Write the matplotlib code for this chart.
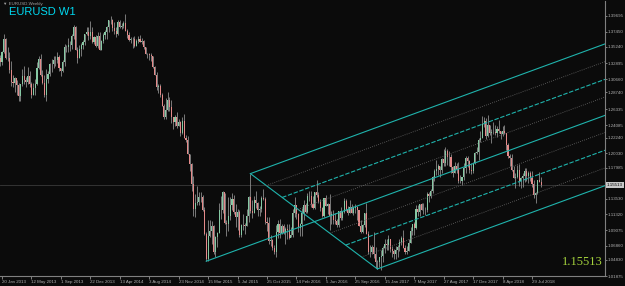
import numpy as np
import pandas as pd
import matplotlib
matplotlib.use('Agg')
import matplotlib.pyplot as plot
import matplotlib.transforms as mtransforms

symbol_title = 'EURUSD W1'
window_caption = '\u25bc EURUSD,Weekly'
first_week = '2013-01-13'   # weekly bars, Sunday open
first_open = 1.3365

# weekly highs / lows / closes, 13 Jan 2013 .. 2 Sep 2018
high = [
    # 2013
    1.3403, 1.3460, 1.3711, 1.3651, 1.3520, 1.3450, 1.3320, 1.3130, 1.3095, 1.3055,
    1.3008, 1.2960, 1.3203, 1.3245, 1.3091, 1.3243, 1.3176, 1.3030, 1.3010, 1.3060,
    1.3307, 1.3390, 1.3418, 1.3188, 1.3125, 1.3207, 1.3177, 1.3298, 1.3345, 1.3400,
    1.3399, 1.3452, 1.3413, 1.3227, 1.3339, 1.3568, 1.3547, 1.3646, 1.3609, 1.3705,
    1.3832, 1.3820, 1.3525, 1.3550, 1.3580, 1.3620, 1.3710, 1.3810, 1.3812, 1.3893,
    1.3810,
    # 2014
    1.3685, 1.3700, 1.3740, 1.3740, 1.3620, 1.3717, 1.3773, 1.3825, 1.3915, 1.3967,
    1.3930, 1.3877, 1.3810, 1.3906, 1.3905, 1.3865, 1.3890, 1.3995, 1.3780, 1.3740,
    1.3668, 1.3670, 1.3677, 1.3642, 1.3680, 1.3700, 1.3648, 1.3626, 1.3530, 1.3444,
    1.3440, 1.3445, 1.3390, 1.3250, 1.3160, 1.2995, 1.3000, 1.2860, 1.2710, 1.2790,
    1.2887, 1.2810, 1.2770, 1.2530, 1.2545, 1.2600, 1.2500, 1.2460, 1.2530, 1.2570,
    1.2270, 1.2250,
    # 2015
    1.1990, 1.1870, 1.1680, 1.1425, 1.1534, 1.1450, 1.1450, 1.1415, 1.1240, 1.0880,
    1.1050, 1.1050, 1.1035, 1.0980, 1.0820, 1.0880, 1.1290, 1.1390, 1.1467, 1.1440,
    1.1050, 1.1380, 1.1385, 1.1435, 1.1410, 1.1280, 1.1215, 1.1190, 1.0990, 1.1130,
    1.1010, 1.1215, 1.1390, 1.1714, 1.1330, 1.1390, 1.1460, 1.1310, 1.1250, 1.1390,
    1.1495, 1.1385, 1.1095, 1.1095, 1.0830, 1.0780, 1.0690, 1.0985, 1.1045, 1.1060,
    1.0990, 1.0990,
    # 2016
    1.0950, 1.0995, 1.0990, 1.0945, 1.1215, 1.1375, 1.1265, 1.1150, 1.1005, 1.1220,
    1.1340, 1.1290, 1.1440, 1.1460, 1.1465, 1.1400, 1.1455, 1.1616, 1.1445, 1.1345,
    1.1240, 1.1370, 1.1415, 1.1300, 1.1425, 1.1185, 1.1190, 1.1150, 1.1060, 1.1180,
    1.1235, 1.1185, 1.1365, 1.1345, 1.1250, 1.1330, 1.1285, 1.1250, 1.1280, 1.1250,
    1.1200, 1.1055, 1.0990, 1.1150, 1.1300, 1.0900, 1.0690, 1.0700, 1.0875, 1.0670,
    1.0480, 1.0495,
    # 2017
    1.0620, 1.0685, 1.0775, 1.0775, 1.0830, 1.0785, 1.0680, 1.0630, 1.0680, 1.0700,
    1.0780, 1.0825, 1.0906, 1.0690, 1.0680, 1.0780, 1.0950, 1.1000, 1.1020, 1.1265,
    1.1268, 1.1285, 1.1295, 1.1295, 1.1230, 1.1445, 1.1445, 1.1490, 1.1680, 1.1775,
    1.1910, 1.1845, 1.1830, 1.1940, 1.2070, 1.2092, 1.2060, 1.2035, 1.1990, 1.1830,
    1.1880, 1.1860, 1.1880, 1.1690, 1.1670, 1.1860, 1.1965, 1.1960, 1.1910, 1.1865,
    1.1880, 1.2025,
    # 2018
    1.2090, 1.2220, 1.2325, 1.2536, 1.2520, 1.2510, 1.2555, 1.2410, 1.2355, 1.2445,
    1.2410, 1.2390, 1.2476, 1.2330, 1.2395, 1.2415, 1.2300, 1.2150, 1.1995, 1.1995,
    1.1830, 1.1720, 1.1840, 1.1852, 1.1660, 1.1720, 1.1790, 1.1790, 1.1745, 1.1750,
    1.1745, 1.1620, 1.1450, 1.1625, 1.1735, 1.1660,
]
low = [
    # 2013
    1.3256, 1.3265, 1.3432, 1.3355, 1.3318, 1.3145, 1.2966, 1.2955, 1.2882, 1.2843,
    1.2750, 1.2745, 1.2968, 1.2998, 1.2955, 1.2990, 1.2954, 1.2796, 1.2833, 1.2842,
    1.2986, 1.3208, 1.3107, 1.3000, 1.2807, 1.2755, 1.3005, 1.3105, 1.3160, 1.3229,
    1.3250, 1.3300, 1.3177, 1.3104, 1.3165, 1.3250, 1.3448, 1.3456, 1.3472, 1.3490,
    1.3644, 1.3482, 1.3295, 1.3360, 1.3400, 1.3500, 1.3547, 1.3692, 1.3627, 1.3640,
    1.3585,
    # 2014
    1.3572, 1.3528, 1.3510, 1.3480, 1.3475, 1.3585, 1.3640, 1.3641, 1.3738, 1.3847,
    1.3749, 1.3705, 1.3673, 1.3700, 1.3790, 1.3780, 1.3800, 1.3750, 1.3648, 1.3615,
    1.3586, 1.3503, 1.3523, 1.3540, 1.3584, 1.3590, 1.3570, 1.3490, 1.3420, 1.3366,
    1.3333, 1.3320, 1.3220, 1.3125, 1.2915, 1.2860, 1.2805, 1.2681, 1.2500, 1.2500,
    1.2615, 1.2610, 1.2440, 1.2358, 1.2400, 1.2360, 1.2390, 1.2250, 1.2275, 1.2220,
    1.2165, 1.1995,
    # 2015
    1.1755, 1.1460, 1.1113, 1.1098, 1.1270, 1.1270, 1.1315, 1.1175, 1.0840, 1.0462,
    1.0465, 1.0810, 1.0710, 1.0570, 1.0520, 1.0660, 1.0860, 1.1060, 1.1150, 1.1000,
    1.0820, 1.0890, 1.1050, 1.1190, 1.1135, 1.0955, 1.0915, 1.0810, 1.0810, 1.0910,
    1.0850, 1.0960, 1.1020, 1.1155, 1.1080, 1.1150, 1.1220, 1.1105, 1.1110, 1.1165,
    1.1340, 1.0995, 1.0895, 1.0710, 1.0675, 1.0620, 1.0560, 1.0525, 1.0800, 1.0800,
    1.0850, 1.0850,
    # 2016
    1.0710, 1.0780, 1.0780, 1.0810, 1.0810, 1.1090, 1.1070, 1.0880, 1.0825, 1.0820,
    1.1050, 1.1145, 1.1145, 1.1325, 1.1235, 1.1215, 1.1215, 1.1385, 1.1300, 1.1180,
    1.1100, 1.1100, 1.1250, 1.1130, 1.0910, 1.0990, 1.1000, 1.1000, 1.0950, 1.0950,
    1.1045, 1.1045, 1.1150, 1.1185, 1.1120, 1.1145, 1.1150, 1.1120, 1.1155, 1.1045,
    1.0965, 1.0870, 1.0860, 1.0945, 1.0850, 1.0570, 1.0520, 1.0570, 1.0505, 1.0365,
    1.0352, 1.0375,
    # 2017
    1.0340, 1.0455, 1.0575, 1.0620, 1.0620, 1.0590, 1.0520, 1.0495, 1.0495, 1.0525,
    1.0605, 1.0700, 1.0645, 1.0570, 1.0570, 1.0605, 1.0720, 1.0835, 1.0840, 1.0920,
    1.1110, 1.1110, 1.1190, 1.1130, 1.1120, 1.1170, 1.1310, 1.1370, 1.1440, 1.1610,
    1.1700, 1.1690, 1.1660, 1.1730, 1.1825, 1.1825, 1.1835, 1.1825, 1.1720, 1.1670,
    1.1730, 1.1730, 1.1575, 1.1575, 1.1555, 1.1620, 1.1720, 1.1810, 1.1730, 1.1715,
    1.1720, 1.1850,
    # 2018
    1.1995, 1.1915, 1.2165, 1.2225, 1.2385, 1.2205, 1.2235, 1.2260, 1.2155, 1.2275,
    1.2265, 1.2240, 1.2290, 1.2215, 1.2255, 1.2285, 1.2055, 1.1940, 1.1820, 1.1750,
    1.1645, 1.1510, 1.1645, 1.1540, 1.1510, 1.1525, 1.1590, 1.1615, 1.1575, 1.1615,
    1.1530, 1.1365, 1.1300, 1.1430, 1.1595, 1.1525,
]
close = [
    # 2013
    1.3315, 1.3458, 1.3633, 1.3364, 1.3362, 1.3190, 1.3018, 1.3005, 1.3076, 1.2986,
    1.2818, 1.2994, 1.3113, 1.3054, 1.3030, 1.3114, 1.2991, 1.2834, 1.2937, 1.2999,
    1.3221, 1.3347, 1.3122, 1.3011, 1.2833, 1.3069, 1.3142, 1.3276, 1.3280, 1.3342,
    1.3337, 1.3381, 1.3222, 1.3177, 1.3303, 1.3525, 1.3524, 1.3555, 1.3548, 1.3686,
    1.3805, 1.3487, 1.3365, 1.3496, 1.3555, 1.3590, 1.3705, 1.3740, 1.3675, 1.3745,
    1.3590,
    # 2014
    1.3668, 1.3540, 1.3680, 1.3487, 1.3607, 1.3693, 1.3743, 1.3804, 1.3912, 1.3913,
    1.3790, 1.3750, 1.3705, 1.3888, 1.3812, 1.3830, 1.3870, 1.3757, 1.3696, 1.3630,
    1.3634, 1.3643, 1.3540, 1.3610, 1.3645, 1.3592, 1.3605, 1.3524, 1.3430, 1.3430,
    1.3410, 1.3400, 1.3240, 1.3130, 1.2950, 1.2960, 1.2835, 1.2683, 1.2520, 1.2628,
    1.2760, 1.2670, 1.2525, 1.2450, 1.2525, 1.2390, 1.2450, 1.2290, 1.2465, 1.2230,
    1.2190, 1.2000,
    # 2015
    1.1845, 1.1565, 1.1205, 1.1290, 1.1315, 1.1385, 1.1380, 1.1195, 1.0845, 1.0495,
    1.0820, 1.0890, 1.0970, 1.0600, 1.0810, 1.0870, 1.1200, 1.1200, 1.1450, 1.1010,
    1.0990, 1.1110, 1.1260, 1.1350, 1.1165, 1.1100, 1.1160, 1.0830, 1.0980, 1.0985,
    1.0970, 1.1105, 1.1385, 1.1180, 1.1150, 1.1335, 1.1300, 1.1200, 1.1210, 1.1360,
    1.1350, 1.1020, 1.1005, 1.0745, 1.0770, 1.0650, 1.0590, 1.0880, 1.0990, 1.0865,
    1.0965, 1.0860,
    # 2016
    1.0925, 1.0915, 1.0795, 1.0830, 1.1155, 1.1260, 1.1130, 1.0930, 1.1000, 1.1150,
    1.1270, 1.1165, 1.1390, 1.1400, 1.1285, 1.1225, 1.1450, 1.1405, 1.1310, 1.1225,
    1.1115, 1.1365, 1.1255, 1.1277, 1.1115, 1.1135, 1.1050, 1.1040, 1.0975, 1.1175,
    1.1085, 1.1165, 1.1325, 1.1200, 1.1155, 1.1235, 1.1155, 1.1225, 1.1240, 1.1200,
    1.0970, 1.0885, 1.0980, 1.1145, 1.0855, 1.0590, 1.0590, 1.0665, 1.0560, 1.0450,
    1.0455, 1.0520,
    # 2017
    1.0530, 1.0645, 1.0705, 1.0695, 1.0785, 1.0640, 1.0615, 1.0560, 1.0620, 1.0670,
    1.0735, 1.0800, 1.0650, 1.0590, 1.0615, 1.0725, 1.0895, 1.0995, 1.0930, 1.1205,
    1.1160, 1.1280, 1.1195, 1.1200, 1.1195, 1.1425, 1.1400, 1.1470, 1.1665, 1.1750,
    1.1775, 1.1820, 1.1760, 1.1925, 1.1860, 1.2035, 1.1945, 1.1950, 1.1815, 1.1730,
    1.1820, 1.1785, 1.1605, 1.1610, 1.1665, 1.1795, 1.1935, 1.1895, 1.1770, 1.1750,
    1.1860, 1.2005,
    # 2018
    1.2030, 1.2200, 1.2220, 1.2425, 1.2460, 1.2250, 1.2410, 1.2295, 1.2310, 1.2305,
    1.2290, 1.2350, 1.2320, 1.2285, 1.2330, 1.2290, 1.2130, 1.1960, 1.1940, 1.1770,
    1.1655, 1.1660, 1.1765, 1.1605, 1.1655, 1.1685, 1.1745, 1.1685, 1.1720, 1.1655,
    1.1565, 1.1410, 1.1440, 1.1620, 1.1600, 1.15513,
]

# price scale labels as printed by the terminal (top to bottom)
price_labels = ['1.39695', '1.37450', '1.35240', '1.32895', '1.30660', '1.28740',
                '1.26335', '1.24085', '1.22240', '1.20030', '1.17985', '1.13530',
                '1.11320', '1.09075', '1.06860', '1.04830', '1.01875']

# channel pivots (bar index) and slope in price per week
pivot_low_a = 112    # Mar 2015 low
pivot_high = 136     # Aug 2015 high
pivot_low_c = 205    # Dec 2016 low
channel_slope = 0.000962

bg = '#0b0b0b'
grey = '#b0b0b0'
cyan = '#1fb3ac'

fig = plot.figure(figsize=(6.25, 2.86), dpi=100, facecolor=bg)
ax = fig.add_axes([0, 10 / 286, 605 / 625, 275 / 286], facecolor=bg)

c = np.array(close)
h = np.array(high)
l = np.array(low)
o = np.concatenate([[first_open], c[:-1]])
n = len(c)
x = np.arange(n)
up = c >= o

ax.set_xlim(-0.09, 328.7)
ax.set_ylim(1.0251, 1.4181)

bid = close[-1]
ax.axhline(bid, color='#3a3a3a', linewidth=0.6, zorder=1)

# candles
ax.vlines(x, l, h, color='#8c8c8c', linewidth=0.6, zorder=2)
ax.bar(x[up], (c - o)[up], bottom=o[up], width=0.6, color='#86c9a4', linewidth=0, zorder=3)
ax.bar(x[~up], (o - c)[~up], bottom=c[~up], width=0.6, color='#e48a8a', linewidth=0, zorder=3)

# channel
x_end = ax.get_xlim()[1]
def ray(i0, p0):
    return [i0, x_end], [p0, p0 + channel_slope * (x_end - i0)]

p_a = low[pivot_low_a]
p_b = high[pivot_high]
p_c = low[pivot_low_c]
for i0, p0 in [(pivot_high, p_b), (pivot_low_a, p_a), (pivot_low_c, p_c)]:
    ax.plot(*ray(i0, p0), color=cyan, linewidth=0.8, zorder=4)
ax.plot([pivot_high, pivot_low_c], [p_b, p_c], color=cyan, linewidth=0.8, zorder=4)
for k in (1, 2, 3, 5, 6, 7):
    f = k / 8
    i0 = pivot_high + f * (pivot_low_c - pivot_high)
    p0 = p_b + f * (p_c - p_b)
    if k in (2, 6):
        ax.plot(*ray(i0, p0), color=cyan, linewidth=0.8, dashes=(4, 1.5), zorder=4)
    else:
        ax.plot(*ray(i0, p0), color='#6a6a6a', linewidth=0.6, dashes=(1, 1.6), zorder=4)

# axes styling
for side in ('top', 'left'):
    ax.spines[side].set_visible(False)
for side in ('right', 'bottom'):
    ax.spines[side].set_color('#808080')
    ax.spines[side].set_linewidth(0.8)

ylo = ax.get_ylim()[0]
ax.yaxis.tick_right()
ax.set_yticks([max(float(s), ylo) for s in price_labels])
ax.set_yticklabels(price_labels, family='Liberation Sans')
ax.tick_params(axis='y', colors=grey, labelsize=3.2, length=1.5, width=0.5, pad=0.6)

dates = pd.date_range(first_week, periods=n, freq='7D')
tick_idx = x[1::16]
tick_txt = [f"{dates[i].day} {dates[i].strftime('%b %Y')}" for i in tick_idx]
ax.set_xticks(tick_idx)
ax.set_xticklabels(tick_txt, ha='left', family='Liberation Sans')
ax.tick_params(axis='x', colors=grey, labelsize=3.2, length=2, width=0.5, pad=1)

trans = mtransforms.blended_transform_factory(ax.transAxes, ax.transData)
ax.text(1.0035, bid, f'{bid:.5f}', transform=trans, fontsize=3.2, color='black',
        va='center', ha='left', family='Liberation Sans',
        bbox=dict(boxstyle='square,pad=0.15', fc='#c8c8c8', ec='none'))

ax.text(0.9967, 0.04, f'{bid:.5f}', transform=ax.transAxes, ha='right', va='baseline',
        color='#a4d23c', fontsize=9, family='Liberation Serif')

fig.text(9 / 625, 1 - 12 / 286, symbol_title, color='#00d8f0', fontsize=8,
         family='Liberation Sans', va='center', ha='left')
fig.text(3 / 625, 1 - 3.5 / 286, window_caption, color='#a0a0a0', fontsize=3.2,
         family=['Liberation Sans', 'DejaVu Sans'], va='center', ha='left')

plot.savefig('out.png', dpi=100, facecolor=bg)
